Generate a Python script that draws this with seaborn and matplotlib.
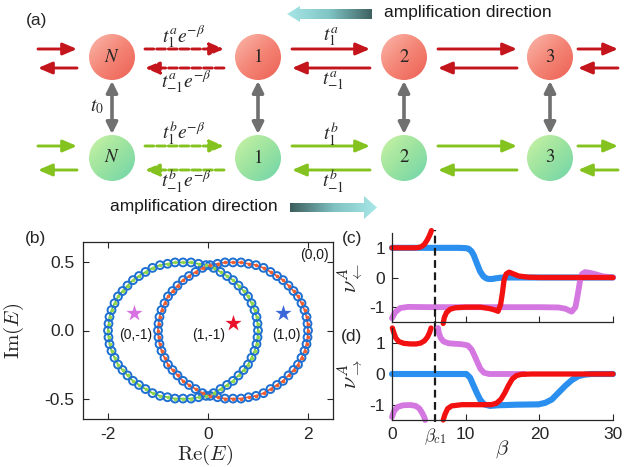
import numpy as np
import pandas as pd
import matplotlib
matplotlib.use('Agg')
import matplotlib.pyplot as plt
import seaborn as sns
from matplotlib.patches import Circle, Polygon
from matplotlib.colors import LinearSegmentedColormap

sns.set_theme(style='ticks')
plt.rcParams['font.family'] = ['Liberation Sans', 'DejaVu Sans']
plt.rcParams['mathtext.fontset'] = 'cm'
plt.rcParams['axes.unicode_minus'] = False

# ---------------- data ----------------
# (a) lattice labels
site_labels = [r'$N$', r'$1$', r'$2$', r'$3$']
hop_a_weak = [r'$t_1^a e^{-\beta}$', r'$t_{-1}^a e^{-\beta}$']
hop_b_weak = [r'$t_1^b e^{-\beta}$', r'$t_{-1}^b e^{-\beta}$']
hop_a = [r'$t_1^a$', r'$t_{-1}^a$']
hop_b = [r'$t_1^b$', r'$t_{-1}^b$']

# (b) spectrum (60 eigenvalues per loop)
im_E = [0.00, 0.05, 0.10, 0.15, 0.20, 0.25, 0.29, 0.33, 0.37, 0.40, 0.43, 0.46, 0.48, 0.49, 0.50,
        0.50, 0.50, 0.49, 0.48, 0.46, 0.43, 0.40, 0.37, 0.33, 0.29, 0.25, 0.20, 0.15, 0.10, 0.05,
        0.00, -0.05, -0.10, -0.15, -0.20, -0.25, -0.29, -0.33, -0.37, -0.40, -0.43, -0.46, -0.48, -0.49, -0.50,
        -0.50, -0.50, -0.49, -0.48, -0.46, -0.43, -0.40, -0.37, -0.33, -0.29, -0.25, -0.20, -0.15, -0.10, -0.05]
re_green = [1.00, 0.99, 0.97, 0.93, 0.87, 0.80, 0.71, 0.61, 0.50, 0.38, 0.25, 0.11, -0.04, -0.19, -0.34,
            -0.50, -0.66, -0.81, -0.96, -1.11, -1.25, -1.38, -1.50, -1.61, -1.71, -1.80, -1.87, -1.93, -1.97, -1.99,
            -2.00, -1.99, -1.97, -1.93, -1.87, -1.80, -1.71, -1.61, -1.50, -1.38, -1.25, -1.11, -0.96, -0.81, -0.66,
            -0.50, -0.34, -0.19, -0.04, 0.11, 0.25, 0.38, 0.50, 0.61, 0.71, 0.80, 0.87, 0.93, 0.97, 0.99]
re_red = [2.00, 1.99, 1.97, 1.93, 1.87, 1.80, 1.71, 1.61, 1.50, 1.38, 1.25, 1.11, 0.96, 0.81, 0.66,
          0.50, 0.34, 0.19, 0.04, -0.11, -0.25, -0.38, -0.50, -0.61, -0.71, -0.80, -0.87, -0.93, -0.97, -0.99,
          -1.00, -0.99, -0.97, -0.93, -0.87, -0.80, -0.71, -0.61, -0.50, -0.38, -0.25, -0.11, 0.04, 0.19, 0.34,
          0.50, 0.66, 0.81, 0.96, 1.11, 1.25, 1.38, 1.50, 1.61, 1.71, 1.80, 1.87, 1.93, 1.97, 1.99]
star_re = [-1.49, 0.50, 1.49]
star_im = [0.127, 0.054, 0.127]
star_colors = ['#d672e2', '#e8102a', '#3a68d8']
winding_labels = ['(0,-1)', '(1,-1)', '(1,0)', '(0,0)']
winding_re = [-1.45, 0.01, 1.56, 2.12]
winding_im = [-0.03, -0.03, -0.03, 0.555]

# (c) nu_left
c_blue_beta = [0, 3, 6, 9, 10, 10.4, 10.8, 11.1, 11.5, 11.95, 12.4, 12.8, 13.1, 13.6, 14.0, 15, 20, 25, 30]
c_blue_nu = [1.0, 1.0, 1.0, 1.0, 0.99, 0.97, 0.88, 0.75, 0.49, 0.21, 0.04, -0.03, -0.05, -0.05, -0.03, 0.0, 0.0, 0.0, 0.0]
c_red1_beta = [0, 1.5, 3.0, 3.6, 4.0, 4.4, 4.75, 5.0, 5.2, 5.35]
c_red1_nu = [1.0, 1.0, 1.0, 1.01, 1.04, 1.12, 1.25, 1.37, 1.48, 1.58]
c_red2_beta = [6.95, 7.1, 7.4, 7.9, 8.6, 10, 12, 13.3, 14.0, 14.4, 14.75, 15.0, 15.2, 15.5, 15.9, 16.4, 17.2, 18.5, 20, 25, 30]
c_red2_nu = [-1.55, -1.35, -1.18, -1.07, -1.02, -1.0, -1.0, -1.05, -1.1, -1.14, -0.9, -0.5, -0.1, 0.12, 0.18, 0.13, 0.05, 0.01, 0.0, 0.0, 0.0]
c_violet_beta = [0, 0.4, 1.1, 2.2, 5, 10, 15, 20, 22.6, 23.5, 24.4, 24.9, 25.2, 25.5, 25.8, 26.2, 26.8, 27.6, 28.6, 30]
c_violet_nu = [-1.37, -1.18, -1.03, -0.99, -1.0, -1.0, -1.0, -1.0, -1.01, -1.05, -1.15, -1.0, -0.6, -0.15, 0.12, 0.18, 0.16, 0.11, 0.04, 0.0]

# (d) nu_right
d_red1_beta = [0.05, 0.2, 0.5, 0.9, 1.6, 2.5, 3.3, 3.9, 4.4, 4.8, 5.1, 5.3]
d_red1_nu = [1.5, 1.38, 1.18, 1.06, 1.0, 0.98, 0.98, 1.01, 1.08, 1.2, 1.35, 1.5]
d_red2_beta = [6.95, 7.2, 7.55, 8.1, 9.5, 12, 13.5, 14.2, 14.8, 15.3, 15.8, 16.3, 16.9, 17.6, 19, 25, 30]
d_red2_nu = [-1.5, -1.31, -1.13, -1.04, -1.0, -1.0, -1.0, -0.95, -0.82, -0.62, -0.38, -0.17, -0.05, -0.01, 0.0, 0.0, 0.0]
d_blue_beta = [0, 5, 10.1, 10.6, 11.0, 11.5, 11.95, 12.5, 13.3, 14.4, 17, 19.9, 20.8, 21.7, 22.6, 23.5, 24.4, 25.3, 26.2, 27.1, 30]
d_blue_nu = [0, 0, 0, -0.12, -0.34, -0.61, -0.83, -0.99, -1.04, -1.02, -1.0, -0.99, -0.94, -0.83, -0.61, -0.39, -0.2, -0.07, -0.02, 0.0, 0.0]
d_violet1_beta = [0, 0.3, 0.8, 1.5, 2.5, 3.2, 3.7, 4.1, 4.4, 4.5]
d_violet1_nu = [-1.4, -1.2, -1.07, -1.02, -1.01, -1.04, -1.12, -1.27, -1.42, -1.5]
d_violet2_beta = [6.25, 6.35, 6.6, 7.0, 7.7, 9.5, 10.3, 10.8, 11.2, 11.6, 12.0, 12.5, 13.2, 15, 18]
d_violet2_nu = [1.5, 1.35, 1.18, 1.06, 1.0, 0.97, 0.93, 0.8, 0.6, 0.38, 0.17, 0.04, 0.0, 0.0, 0.0]

beta_c1 = 5.8

# colours
RED_ARR = '#c4141c'
GREEN_ARR = '#84c21f'
GRAY = '#707070'
BLUE_LINE = '#2a8fef'
VIOLET_LINE = '#d477e0'
RED_LINE = '#f21010'

fig = plt.figure(figsize=(6.31, 4.67), dpi=100)

# ---------------- (a) schematic, drawn in pixel coords ----------------
ax0 = fig.add_axes([0, 0, 1, 1])
ax0.set_xlim(0, 631)
ax0.set_ylim(467, 0)
ax0.axis('off')

site_x = [112, 258, 404, 550]
y_red, y_green = 57, 158
r_node = 23

g = np.linspace(0, 1, 64)
gx, gy = np.meshgrid(g, g)
shade = (gx + gy) / 2
red_cmap = LinearSegmentedColormap.from_list('rnode', ['#fab8ac', '#f48576', '#ec6155'])
green_cmap = LinearSegmentedColormap.from_list('gnode', ['#c9f3a4', '#9ce3a0', '#6fd5aa'])


def node(cx, cy, cmap, label):
    im = ax0.imshow(shade, cmap=cmap, extent=(cx - r_node, cx + r_node, cy + r_node, cy - r_node),
                    aspect='auto', interpolation='bilinear', zorder=2)
    circ = Circle((cx, cy), r_node, facecolor='none', edgecolor='none', zorder=2)
    ax0.add_patch(circ)
    im.set_clip_path(circ)
    ax0.text(cx, cy, label, ha='center', va='center', fontsize=13.5, math_fontfamily='stix', zorder=3)


def arrow(x0, x1, y, color, dashed=False):
    ls = (0, (3, 1)) if dashed else '-'
    ax0.annotate('', xy=(x1, y), xytext=(x0, y),
                 arrowprops=dict(arrowstyle='-|>,head_length=0.7,head_width=0.3', color=color,
                                 lw=2.1, ls=ls, shrinkA=0, shrinkB=0, mutation_scale=12))


for sx, lab in zip(site_x, site_labels):
    node(sx, y_red, red_cmap, lab)
    node(sx, y_green, green_cmap, lab)
    ax0.annotate('', xy=(sx, 81), xytext=(sx, 134),
                 arrowprops=dict(arrowstyle='<|-|>,head_length=0.6,head_width=0.3', color=GRAY,
                                 lw=2.6, shrinkA=0, shrinkB=0, mutation_scale=11))

# horizontal hopping arrows: (start, end) of right-moving ones
spans = [(38, 77, False), (145, 224, True), (292, 370, False), (438, 517, False), (578, 618, False)]
for (xa, xb, dashed) in spans:
    arrow(xa, xb, 49, RED_ARR, dashed)
    arrow(xb, xa, 68, RED_ARR, dashed)
    arrow(xa, xb, 146, GREEN_ARR, dashed)
    arrow(xb, xa, 170, GREEN_ARR, dashed)

mt = dict(ha='center', va='center', fontsize=14, math_fontfamily='stix')
ax0.text(184, 37, hop_a_weak[0], **mt)
ax0.text(186, 82, hop_a_weak[1], **mt)
ax0.text(184, 133, hop_b_weak[0], **mt)
ax0.text(186, 181, hop_b_weak[1], **mt)
ax0.text(331, 37, hop_a[0], **mt)
ax0.text(333, 81, hop_a[1], **mt)
ax0.text(331, 134, hop_b[0], **mt)
ax0.text(333, 181, hop_b[1], **mt)
ax0.text(97, 107, r'$t_0$', **mt)


def big_arrow(pts, x0, x1, y0, y1, colors):
    poly = Polygon(pts, closed=True, facecolor='none', edgecolor='none')
    ax0.add_patch(poly)
    cm = LinearSegmentedColormap.from_list('amp', colors)
    im = ax0.imshow(np.linspace(0, 1, 128)[None, :], cmap=cm, extent=(x0, x1, y1, y0),
                    aspect='auto', interpolation='bilinear')
    im.set_clip_path(poly)


big_arrow([(287, 14), (300, 6), (300, 9), (372, 9), (372, 19), (300, 19), (300, 22)],
          287, 372, 6, 22, ['#a8e6e6', '#80c4c4', '#3f6262'])
big_arrow([(290, 203), (364, 203), (364, 196), (377, 207.5), (364, 219), (364, 212), (290, 212)],
          290, 377, 196, 219, ['#3d5d5d', '#7fc0c0', '#a8e8e8'])
ax0.text(384, 13, 'amplification direction', ha='left', va='center', fontsize=12.5, color='#1a1a1a')
ax0.text(110, 206, 'amplification direction', ha='left', va='center', fontsize=12.5, color='#1a1a1a')

for lab, (px, py) in zip(['(a)', '(b)', '(c)', '(d)'], [(37, 21), (35, 239), (352, 239), (352, 337)]):
    ax0.text(px, py, lab, ha='center', va='center', fontsize=12.5)

ax0.set_xlim(0, 631)
ax0.set_ylim(467, 0)

# ---------------- (b) spectrum ----------------
axb = fig.add_axes([83 / 631, 48 / 467, 250 / 631, 177 / 467])
loops = [(re_green, '#66bf3f', '#93d64c'), (re_red, '#e8553a', '#f0602f')]
for re_vals, line_c, dot_c in loops:
    loop_df = pd.DataFrame({'re': re_vals + [re_vals[0]], 'im': im_E + [im_E[0]]})
    sns.lineplot(data=loop_df, x='re', y='im', sort=False, estimator=None, color=line_c, lw=1.2, ax=axb)
for re_vals, line_c, dot_c in loops:
    sns.scatterplot(x=re_vals, y=im_E, marker='o', s=32, facecolor='none', edgecolor='#1d6fd1',
                    linewidth=1.4, ax=axb, zorder=3)
    sns.scatterplot(x=re_vals, y=im_E, marker='o', s=7, color=dot_c, linewidth=0, ax=axb, zorder=4)
for sr, si, sc in zip(star_re, star_im, star_colors):
    sns.scatterplot(x=[sr], y=[si], marker='*', s=150, color=sc, linewidth=0, ax=axb, zorder=5)
for lab, lr, li in zip(winding_labels, winding_re, winding_im):
    axb.text(lr, li, lab, ha='center', va='center', fontsize=10, color='#1a1a1a')

axb.set_xlim(-2.5, 2.5)
axb.set_ylim(-0.65, 0.65)
axb.set_xticks([-2, 0, 2])
axb.set_yticks([-0.5, 0.0, 0.5])
axb.set_yticklabels(['-0.5', '0.0', '0.5'])
axb.tick_params(direction='in', top=True, right=True, length=4, width=0.8, labelsize=12.5, pad=6)
for s in axb.spines.values():
    s.set_linewidth(0.9)
    s.set_color('#262626')
axb.set_xlabel(r'$\mathrm{Re}(E)$', fontsize=15)
axb.set_ylabel(r'$\mathrm{Im}(E)$', fontsize=15)
axb.xaxis.set_label_coords(0.49, -0.135)
axb.yaxis.set_label_coords(-0.23, 0.5)

# ---------------- (c), (d) winding numbers ----------------
axc = fig.add_axes([392 / 631, 145 / 467, 221 / 631, 89 / 467])
axd = fig.add_axes([392 / 631, 47 / 467, 221 / 631, 92 / 467])

curves_c = [(c_blue_beta, c_blue_nu, BLUE_LINE, 4.4), (c_violet_beta, c_violet_nu, VIOLET_LINE, 4.2),
            (c_red1_beta, c_red1_nu, RED_LINE, 3.8), (c_red2_beta, c_red2_nu, RED_LINE, 3.8)]
curves_d = [(d_blue_beta, d_blue_nu, BLUE_LINE, 4.4), (d_violet1_beta, d_violet1_nu, VIOLET_LINE, 4.2),
            (d_violet2_beta, d_violet2_nu, VIOLET_LINE, 4.2),
            (d_red1_beta, d_red1_nu, RED_LINE, 3.8), (d_red2_beta, d_red2_nu, RED_LINE, 3.8)]

for ax, curves in [(axc, curves_c), (axd, curves_d)]:
    for bx, ny, col, lw in curves:
        sns.lineplot(x=bx, y=ny, sort=False, estimator=None, color=col, lw=lw, ax=ax,
                     solid_capstyle='round', clip_on=False)
    ax.set_xlim(0, 30)
    ax.set_ylim(-1.5, 1.5)
    ax.set_yticks([-1, 0, 1])
    ax.set_xticks([0, beta_c1, 10, 20, 30])
    ax.tick_params(direction='in', length=4, width=0.8, labelsize=12.5, pad=5)
    sns.despine(ax=ax)
    for s in ax.spines.values():
        s.set_linewidth(0.9)
        s.set_color('#262626')
    ax.set_facecolor('none')

axc.axvline(beta_c1, ymin=-0.08, ymax=1.03, color='k', lw=1.6, ls=(0, (3.5, 2)), clip_on=False)
axd.axvline(beta_c1, ymin=-0.02, ymax=1.0, color='k', lw=1.6, ls=(0, (3.5, 2)), clip_on=False)
axc.set_xticklabels([])
axd.set_xticklabels(['0', r'$\beta_{c1}$', '10', '20', '30'])
axc.set_ylabel(r'$\nu_{\leftarrow}^{A}$', fontsize=16)
axd.set_ylabel(r'$\nu_{\rightarrow}^{A}$', fontsize=16)
axc.yaxis.set_label_coords(-0.12, 0.5)
axd.yaxis.set_label_coords(-0.12, 0.5)
axd.set_xlabel(r'$\beta$', fontsize=15)
axd.xaxis.set_label_coords(0.5, -0.20)

fig.savefig('out.png', dpi=100)
